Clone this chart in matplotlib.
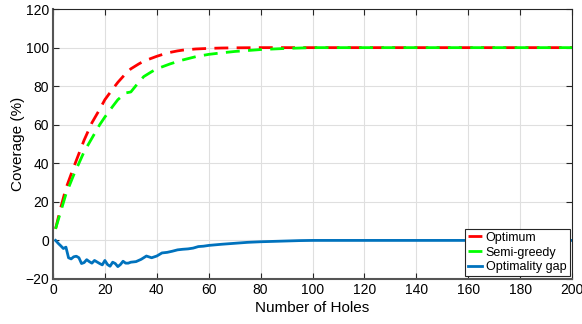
import matplotlib
matplotlib.use("Agg")
import matplotlib.pyplot as plt

plt.rcParams["font.family"] = ["Liberation Sans", "DejaVu Sans"]

# coverage curves
opt_x = [1, 3, 5, 8, 10, 12, 15, 18, 20, 23, 25, 28, 30, 33, 35, 38, 40, 43, 45,
         48, 50, 55, 60, 65, 70, 80, 90, 100, 120, 140, 160, 180, 200]
opt_y = [6, 17, 27, 38, 45, 52, 61, 68, 73, 78.5, 82, 86.5, 89, 91.5, 93, 94.5, 95.5,
         96.8, 97.5, 98.3, 98.7, 99.3, 99.6, 99.8, 99.9, 100, 100, 100, 100, 100, 100, 100, 100]

semi_x = [1, 3, 5, 8, 10, 12, 15, 18, 20, 23, 25, 28, 30, 33, 35, 38, 40, 43, 45,
          48, 50, 55, 60, 65, 70, 80, 90, 100, 120, 140, 160, 180, 200]
semi_y = [6, 15, 24, 34, 40, 46, 53, 60, 64, 69.5, 73, 76.5, 77, 82, 85, 87.5, 89,
          90.5, 91.5, 92.8, 93.6, 95.3, 96.5, 97.3, 98, 99, 99.6, 100, 100, 100, 100, 100, 100]

gap_x = [1, 2, 3, 4, 5, 6, 7, 8, 9, 10, 11, 12, 13, 14, 15, 16, 17, 18, 19, 20,
         21, 22, 23, 24, 25, 26, 27, 28, 29, 30, 32, 34, 36, 38, 40, 42, 44, 46, 48,
         50, 52, 54, 56, 58, 60, 65, 70, 75, 80, 85, 90, 95, 100, 120, 140, 160, 180, 200]
gap_y = [0, -1.5, -2.8, -4.2, -3.5, -9, -9.6, -8.5, -8.2, -9, -12, -11.5, -10, -11,
         -11.8, -10.4, -11.2, -12, -12.7, -10.4, -12.5, -13.4, -11.3, -12, -13.6, -12.5,
         -10.8, -11.8, -11.8, -11.3, -11, -9.8, -8.1, -9, -8.1, -6.5, -6.2, -5.6, -4.9,
         -4.6, -4.4, -4.0, -3.2, -3.0, -2.6, -2.0, -1.5, -1.0, -0.7, -0.5, -0.3, -0.1,
         0, 0, 0, 0, 0, 0]

fig = plt.figure(figsize=(5.82, 3.24), dpi=100)
ax = fig.add_axes([0.091, 0.139, 0.892, 0.833])

dash = (0, (5, 3))
ax.plot(opt_x, opt_y, color="#ff0000", lw=2, ls=dash, label="Optimum")
ax.plot(semi_x, semi_y, color="#00ff00", lw=2, ls=dash, label="Semi-greedy")
ax.plot(gap_x, gap_y, color="#0072bd", lw=2, label="Optimality gap")

ax.set_xlim(0, 200)
ax.set_ylim(-20, 120)
ax.set_xticks(range(0, 201, 20))
ax.set_yticks(range(-20, 121, 20))
ax.grid(True, color="#dfdfdf", lw=0.8)
ax.set_axisbelow(True)
for side, s in ax.spines.items():
    s.set_color("#262626")
    s.set_linewidth(0.8)
for side in ("left", "bottom"):
    ax.spines[side].set_color("#555555")
    ax.spines[side].set_linewidth(1.5)
ax.tick_params(direction="in", top=True, right=True, length=4, labelsize=10,
               colors="#262626", labelcolor="#000000", pad=3)
ax.set_xlabel("Number of Holes", fontsize=11, labelpad=3)
ax.set_ylabel("Coverage (%)", fontsize=11, labelpad=0)

leg = ax.legend(loc="lower right", fontsize=9, handlelength=1.1, handletextpad=0.3,
                borderpad=0.25, labelspacing=0.22, borderaxespad=0.2, fancybox=False,
                framealpha=1, edgecolor="#262626")
leg.get_frame().set_linewidth(0.8)

fig.savefig("out.png", dpi=100)
